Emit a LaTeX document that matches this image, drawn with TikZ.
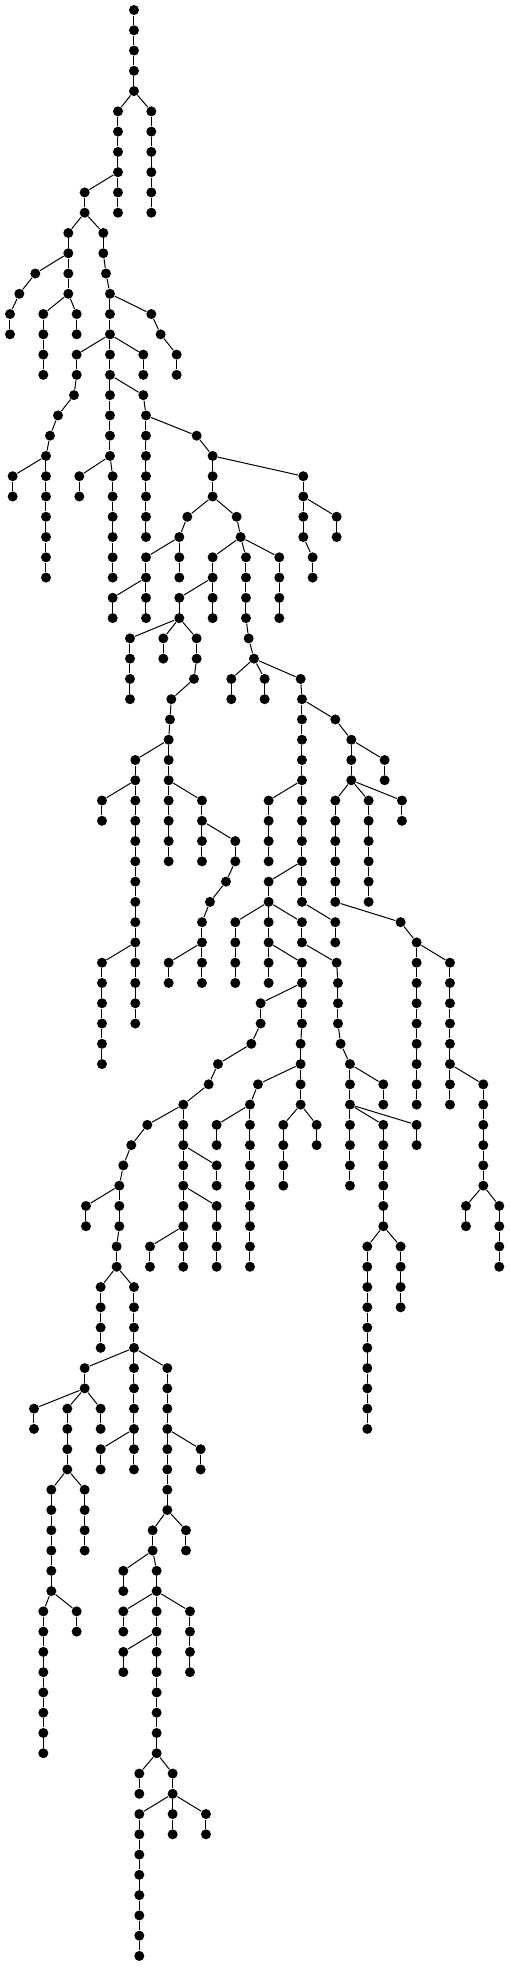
\documentclass[tikz,border=0pt]{standalone}
\usepackage{tikz}
\usetikzlibrary{positioning}
\tikzset{vtx/.style={circle,fill=black,inner sep=0pt,minimum size=10pt}}
% vertical run of vertices: x, first row, last row
\newcommand\vchain[3]{%
  \foreach \r in {#2,...,#3}{\node[vtx] (r\r c#1) at (#1,\r) {};}%
  \foreach \r [evaluate=\r as \q using int(\r-1)] in {#2,...,#3}{%
    \ifnum\r>#2\relax \draw (r\q c#1) -- (r\r c#1);\fi}%
}
\begin{document}
\begin{tikzpicture}[x=0.3333pt,y=-20.27pt,line width=1pt]
\useasboundingbox (0,-0.4933) rectangle (1530,96.497);
\vchain{402}{0}{4}
\vchain{354}{5}{10}
\vchain{454}{5}{10}
\vchain{254}{9}{10}
\vchain{205}{11}{14}
\vchain{310}{11}{12}
\vchain{106}{13}{13}
\vchain{58}{14}{14}
\vchain{30}{15}{16}
\vchain{130}{15}{18}
\vchain{230}{15}{16}
\vchain{318}{13}{13}
\vchain{330}{14}{22}
\vchain{454}{15}{15}
\vchain{482}{16}{16}
\vchain{530}{17}{18}
\vchain{230}{17}{18}
\vchain{222}{19}{19}
\vchain{174}{20}{20}
\vchain{150}{21}{21}
\vchain{138}{22}{28}
\vchain{38}{23}{24}
\vchain{430}{17}{18}
\vchain{430}{19}{19}
\vchain{438}{20}{26}
\vchain{590}{21}{21}
\vchain{638}{22}{24}
\vchain{910}{23}{26}
\vchain{1010}{25}{26}
\vchain{938}{27}{28}
\vchain{238}{23}{24}
\vchain{338}{23}{28}
\vchain{562}{25}{25}
\vchain{538}{26}{28}
\vchain{438}{27}{30}
\vchain{338}{29}{30}
\vchain{710}{25}{25}
\vchain{722}{26}{26}
\vchain{638}{27}{30}
\vchain{738}{27}{30}
\vchain{838}{27}{30}
\vchain{538}{29}{30}
\vchain{390}{31}{34}
\vchain{490}{31}{32}
\vchain{590}{31}{32}
\vchain{582}{33}{33}
\vchain{514}{34}{34}
\vchain{510}{35}{35}
\vchain{506}{36}{42}
\vchain{406}{37}{50}
\vchain{306}{39}{40}
\vchain{306}{47}{52}
\vchain{606}{39}{42}
\vchain{706}{41}{42}
\vchain{678}{43}{43}
\vchain{630}{44}{44}
\vchain{606}{45}{48}
\vchain{506}{47}{48}
\vchain{746}{31}{31}
\vchain{762}{32}{32}
\vchain{694}{33}{34}
\vchain{794}{33}{34}
\vchain{902}{33}{33}
\vchain{906}{34}{44}
\vchain{1006}{35}{35}
\vchain{1054}{36}{38}
\vchain{1154}{37}{38}
\vchain{1006}{39}{44}
\vchain{1106}{39}{44}
\vchain{1206}{39}{40}
\vchain{806}{39}{42}
\vchain{806}{43}{48}
\vchain{706}{45}{48}
\vchain{906}{45}{46}
\vchain{906}{47}{50}
\vchain{1006}{45}{46}
\vchain{1010}{47}{47}
\vchain{1014}{48}{50}
\vchain{1022}{51}{51}
\vchain{1050}{52}{58}
\vchain{1150}{53}{54}
\vchain{1150}{55}{60}
\vchain{1250}{55}{56}
\vchain{1102}{61}{70}
\vchain{1202}{61}{64}
\vchain{1202}{45}{45}
\vchain{1250}{46}{54}
\vchain{1350}{47}{54}
\vchain{1450}{53}{58}
\vchain{1398}{59}{60}
\vchain{1498}{59}{62}
\vchain{782}{49}{50}
\vchain{754}{51}{51}
\vchain{654}{52}{52}
\vchain{626}{53}{53}
\vchain{550}{54}{62}
\vchain{442}{55}{55}
\vchain{394}{56}{56}
\vchain{370}{57}{57}
\vchain{358}{58}{60}
\vchain{258}{59}{60}
\vchain{350}{61}{62}
\vchain{650}{57}{58}
\vchain{650}{59}{62}
\vchain{450}{61}{62}
\vchain{902}{51}{54}
\vchain{774}{53}{53}
\vchain{750}{54}{62}
\vchain{650}{55}{56}
\vchain{850}{55}{58}
\vchain{950}{55}{56}
\vchain{302}{63}{66}
\vchain{402}{63}{72}
\vchain{254}{67}{68}
\vchain{102}{69}{70}
\vchain{202}{69}{72}
\vchain{302}{69}{70}
\vchain{502}{67}{74}
\vchain{602}{71}{72}
\vchain{302}{71}{72}
\vchain{154}{73}{78}
\vchain{254}{73}{76}
\vchain{130}{79}{86}
\vchain{230}{79}{80}
\vchain{458}{75}{76}
\vchain{558}{75}{76}
\vchain{370}{77}{78}
\vchain{470}{77}{86}
\vchain{370}{79}{80}
\vchain{570}{79}{82}
\vchain{370}{81}{82}
\vchain{418}{87}{88}
\vchain{518}{87}{90}
\vchain{418}{89}{96}
\vchain{618}{89}{90}
% branching edges
\draw (r4c402) -- (r5c354) (r4c402) -- (r5c454);
\draw (r8c354) -- (r9c254);
\draw (r10c254) -- (r11c205) (r10c254) -- (r11c310);
\draw (r12c205) -- (r13c106) -- (r14c58) -- (r15c30);
\draw (r14c205) -- (r15c130) (r14c205) -- (r15c230);
\draw (r12c310) -- (r13c318) -- (r14c330);
\draw (r14c330) -- (r15c454) -- (r16c482) -- (r17c530);
\draw (r16c330) -- (r17c230) (r16c330) -- (r17c430);
\draw (r18c230) -- (r19c222) -- (r20c174) -- (r21c150) -- (r22c138);
\draw (r22c138) -- (r23c38);
\draw (r18c330) -- (r19c430) -- (r20c438);
\draw (r20c438) -- (r21c590) -- (r22c638);
\draw (r22c638) -- (r23c910);
\draw (r24c910) -- (r25c1010);
\draw (r26c910) -- (r27c938);
\draw (r22c330) -- (r23c238) (r22c330) -- (r23c338);
\draw (r24c638) -- (r25c562) (r24c638) -- (r25c710);
\draw (r25c562) -- (r26c538);
\draw (r26c538) -- (r27c438);
\draw (r28c438) -- (r29c338);
\draw (r25c710) -- (r26c722);
\draw (r26c722) -- (r27c638) (r26c722) -- (r27c738) (r26c722) -- (r27c838);
\draw (r28c638) -- (r29c538);
\draw (r30c538) -- (r31c390) (r30c538) -- (r31c490) (r30c538) -- (r31c590);
\draw (r32c590) -- (r33c582) -- (r34c514) -- (r35c510) -- (r36c506);
\draw (r36c506) -- (r37c406);
\draw (r38c406) -- (r39c306);
\draw (r46c406) -- (r47c306);
\draw (r38c506) -- (r39c606);
\draw (r40c606) -- (r41c706);
\draw (r42c706) -- (r43c678) -- (r44c630) -- (r45c606);
\draw (r46c606) -- (r47c506);
\draw (r30c738) -- (r31c746) -- (r32c762);
\draw (r32c762) -- (r33c694) (r32c762) -- (r33c794) (r32c762) -- (r33c902);
\draw (r33c902) -- (r34c906);
\draw (r34c906) -- (r35c1006) -- (r36c1054);
\draw (r36c1054) -- (r37c1154);
\draw (r38c1054) -- (r39c1006) (r38c1054) -- (r39c1106) (r38c1054) -- (r39c1206);
\draw (r38c906) -- (r39c806);
\draw (r42c906) -- (r43c806);
\draw (r44c806) -- (r45c706) (r44c806) -- (r45c906);
\draw (r46c806) -- (r47c906);
\draw (r44c906) -- (r45c1006);
\draw (r46c906) -- (r47c1010) -- (r48c1014);
\draw (r50c1014) -- (r51c1022) -- (r52c1050);
\draw (r52c1050) -- (r53c1150);
\draw (r54c1050) -- (r55c1150) (r54c1050) -- (r55c1250);
\draw (r60c1150) -- (r61c1102) (r60c1150) -- (r61c1202);
\draw (r44c1006) -- (r45c1202) -- (r46c1250);
\draw (r46c1250) -- (r47c1350);
\draw (r52c1350) -- (r53c1450);
\draw (r58c1450) -- (r59c1398) (r58c1450) -- (r59c1498);
\draw (r48c906) -- (r49c782);
\draw (r50c782) -- (r51c754) -- (r52c654) -- (r53c626) -- (r54c550);
\draw (r54c550) -- (r55c442) -- (r56c394) -- (r57c370) -- (r58c358);
\draw (r58c358) -- (r59c258);
\draw (r60c358) -- (r61c350);
\draw (r62c350) -- (r63c302) (r62c350) -- (r63c402);
\draw (r56c550) -- (r57c650);
\draw (r58c550) -- (r59c650);
\draw (r60c550) -- (r61c450);
\draw (r50c906) -- (r51c902);
\draw (r52c902) -- (r53c774) -- (r54c750);
\draw (r54c750) -- (r55c650);
\draw (r54c902) -- (r55c850) (r54c902) -- (r55c950);
\draw (r66c402) -- (r67c254) (r66c402) -- (r67c502);
\draw (r68c254) -- (r69c102) (r68c254) -- (r69c202) (r68c254) -- (r69c302);
\draw (r70c502) -- (r71c602);
\draw (r70c402) -- (r71c302);
\draw (r72c202) -- (r73c154) (r72c202) -- (r73c254);
\draw (r78c154) -- (r79c130) (r78c154) -- (r79c230);
\draw (r74c502) -- (r75c458) (r74c502) -- (r75c558);
\draw (r76c458) -- (r77c370) (r76c458) -- (r77c470);
\draw (r78c470) -- (r79c370) (r78c470) -- (r79c570);
\draw (r80c470) -- (r81c370);
\draw (r86c470) -- (r87c418) (r86c470) -- (r87c518);
\draw (r88c518) -- (r89c418) (r88c518) -- (r89c618);
\end{tikzpicture}
\end{document}
